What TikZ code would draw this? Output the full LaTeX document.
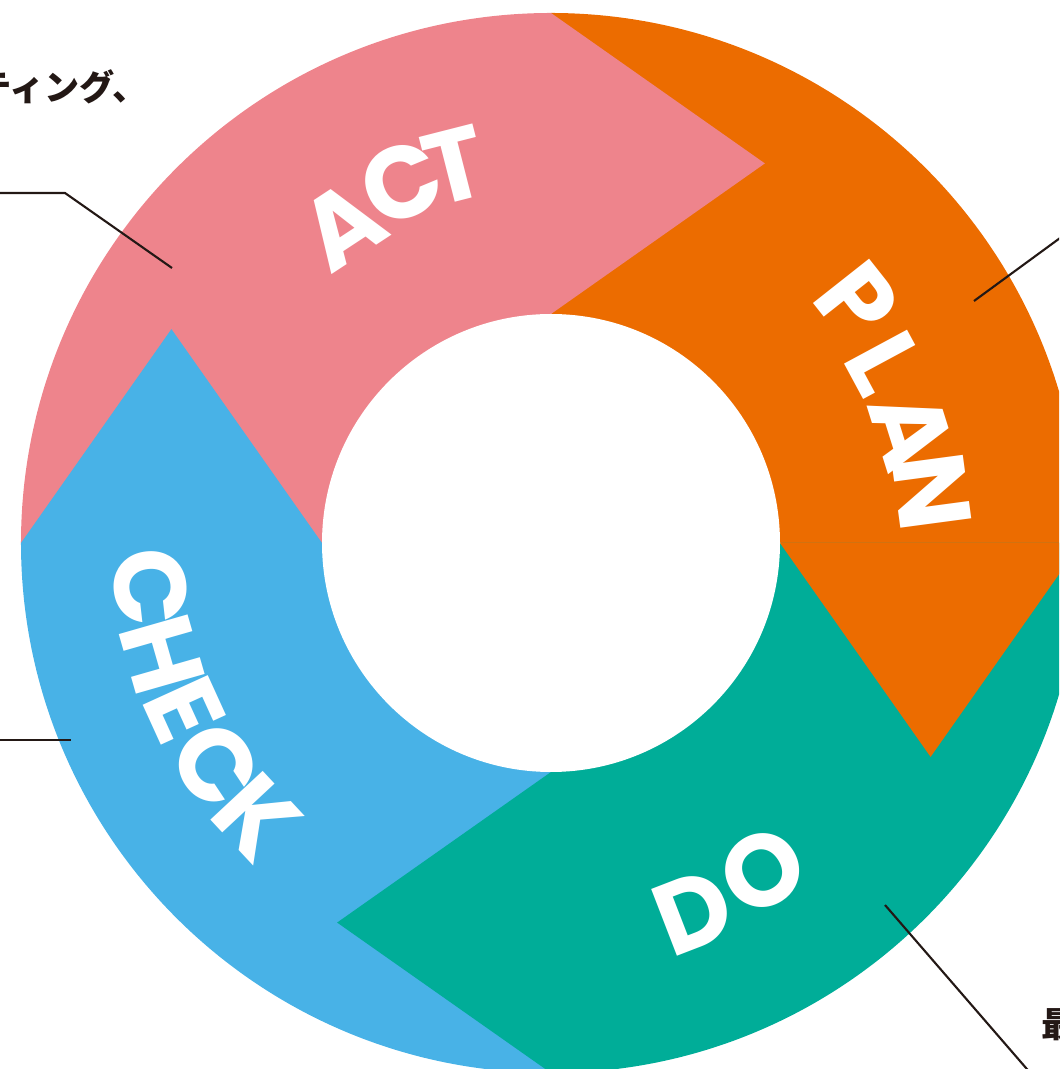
\documentclass[tikz,border=0pt]{standalone}
\usepackage{fontspec}
\newfontfamily\pdcafont{Poppins}
\newfontfamily\jpfont{Noto Sans CJK JP}

\definecolor{actpink}{HTML}{EE848C}
\definecolor{planorange}{HTML}{EC6C00}
\definecolor{dogreen}{HTML}{00AD98}
\definecolor{checkblue}{HTML}{48B2E7}
\definecolor{leader}{HTML}{231815}

\tikzset{
  letter/.style={text=white, inner sep=0pt, font=\pdcafont\bfseries\fontsize{29}{29}\selectfont},
  leaderline/.style={draw=leader, line width=0.6pt},
  notetext/.style={text=leader, inner sep=0pt, font=\jpfont\bfseries\fontsize{10}{12}\selectfont}
}

\begin{document}
\begin{tikzpicture}
    % Frame:
    % The page only shows a part of the ring, so everything is clipped:
    \clip (-5.51,-5.26) rectangle (5.08,5.43);
    \def\Rout{5.30}
    \def\Rin{2.29}

    % Quadrants of the ring
    \foreach \a/\c in {0/planorange,90/actpink,180/checkblue,270/dogreen}{%
        \fill [\c] (0,0) -- (\a:\Rout) arc [start angle=\a, end angle=\a+90, radius=\Rout] -- cycle;
    }
    % Arrow tips:
    % Every colour pokes a triangle into the next quadrant (clockwise)
    \foreach \a/\c in {90/actpink,0/planorange,270/dogreen,180/checkblue}{%
        \fill [\c] (\a:\Rout) -- (\a-29.4:4.357) -- (\a:\Rin) -- cycle;
    }
    % Hole in the middle
    \fill [white] (0,0) circle [radius=\Rin];

    % Labels:
    % Each letter is set on its own, rotated along the ring
    \foreach \l/\t/\r [count=\i] in {A/123.3/3.80, C/112.5/3.90, T/104.3/3.90}{%
        \node [letter, rotate=\t-90] (act-\i) at (\t:\r) {\l};
    }
    \foreach \l/\t/\r [count=\i] in {P/38.3/3.90, L/28.3/3.79, A/17.4/3.78, N/7.6/3.84}{%
        \node [letter, rotate=\t-90] (plan-\i) at (\t:\r) {\l};
    }
    \foreach \l/\t/\r [count=\i] in {D/-68.9/3.95, O/-57.1/3.90}{%
        \node [letter, rotate=\t+90] (do-\i) at (\t:\r) {\l};
    }
    \foreach \l/\t/\r [count=\i] in {C/186.3/4.03, H/196/4.04, E/204.5/4.03, C/213.6/4.02, K/223/4.02}{%
        \node [letter, rotate=\t+90] (check-\i) at (\t:\r) {\l};
    }

    % Leader lines to the notes
    \coordinate (actnote) at (-5.51,3.50);
    \coordinate (actbend) at (-4.86,3.50);
    \coordinate (actpoint) at (-3.79,2.75);
    \draw [leaderline] (actnote) -- (actbend) -- (actpoint);

    \coordinate (planpoint) at (4.23,2.42);
    \coordinate (plannote) at (5.20,3.13);
    \draw [leaderline] (planpoint) -- (plannote);

    \coordinate (checknote) at (-5.51,-1.97);
    \coordinate (checkpoint) at (-4.80,-1.97);
    \draw [leaderline] (checknote) -- (checkpoint);

    \coordinate (dopoint) at (3.34,-3.62);
    \coordinate (donote) at (4.88,-5.40);
    \draw [leaderline] (dopoint) -- (donote);

    % Notes (only their ends are on the page)
    \node [notetext, anchor=east] (acttext) at (-4.03,4.56) {ティング、};
    \node [notetext, anchor=west] (dotext) at (4.90,-4.82) {最};
\end{tikzpicture}
\end{document}
